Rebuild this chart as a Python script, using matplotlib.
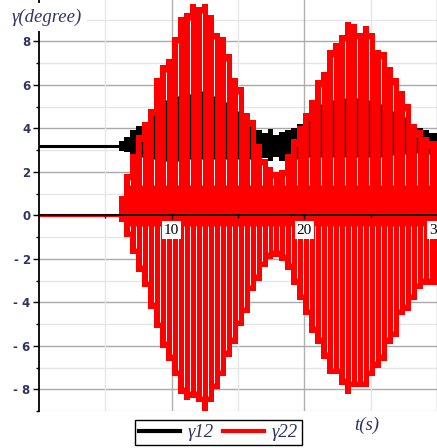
import matplotlib
matplotlib.use("Agg")
import matplotlib.pyplot as plt
from matplotlib.lines import Line2D
import numpy as np

# --- datos ---
t_rest_end = 6.0          # hasta aqui ambas senales estan en reposo
g12_rest = 3.17           # gamma12 en reposo (grados)
g22_rest = 0.0            # gamma22 en reposo

# instantes centrales de cada "diente" de la oscilacion (s)
t_teeth = [6.2, 6.65, 7.1, 7.55, 8.0, 8.45, 8.9, 9.35, 9.8, 10.25,
           10.7, 11.15, 11.6, 12.05, 12.5, 12.95, 13.4, 13.85, 14.3, 14.75,
           15.2, 15.65, 16.1, 16.55, 17.0, 17.45, 17.9, 18.35, 18.8, 19.25,
           19.7, 20.15, 20.6, 21.05, 21.5, 21.95, 22.4, 22.85, 23.3, 23.75,
           24.2, 24.65, 25.1, 25.55, 26.0, 26.45, 26.9, 27.35, 27.8, 28.25,
           28.7, 29.15, 29.6]

# gamma22: maximos y minimos de cada diente
g22_hi = [0.9, 1.9, 2.8, 3.7, 4.3, 4.9, 6.3, 6.9, 7.2, 8.2,
          9.1, 9.3, 9.7, 9.6, 9.7, 9.2, 8.4, 8.2, 7.4, 6.3,
          5.9, 4.7, 4.4, 3.3, 2.6, 2.2, 2.0, 2.1, 2.8, 3.5,
          4.1, 4.7, 5.3, 6.2, 6.6, 7.6, 7.9, 8.3, 8.9, 8.8,
          8.4, 8.7, 8.4, 7.6, 7.5, 6.8, 6.3, 5.7, 5.1, 4.2,
          3.9, 3.6, 3.4]
g22_lo = [-0.3, -1.0, -1.8, -2.6, -3.3, -4.3, -5.2, -6.1, -6.7, -7.4,
          -8.2, -8.5, -8.4, -8.6, -9.0, -8.6, -8.0, -7.4, -6.5, -5.9,
          -5.1, -4.5, -3.5, -3.0, -2.4, -2.0, -1.9, -2.1, -2.5, -3.2,
          -3.9, -4.6, -5.4, -5.9, -6.6, -7.3, -7.3, -7.8, -8.2, -7.9,
          -7.9, -7.9, -7.4, -7.0, -6.7, -5.9, -5.6, -4.6, -4.4, -3.9,
          -3.4, -3.2, -3.2]

# gamma12: maximos y minimos de cada diente
g12_hi = [3.4, 3.6, 3.9, 4.1, 4.3, 4.6, 4.9, 5.1, 5.3, 5.4,
          5.5, 5.5, 5.6, 5.7, 5.6, 5.5, 5.4, 5.2, 5.0, 4.8,
          4.6, 4.4, 4.1, 3.9, 3.8, 3.95, 3.7, 3.85, 3.9, 4.0,
          4.2, 4.6, 4.9, 5.0, 5.1, 5.2, 5.3, 5.4, 5.4, 5.4,
          5.35, 5.3, 5.2, 5.1, 4.95, 4.8, 4.7, 4.5, 4.4, 4.2,
          4.0, 3.9, 3.8]
g12_lo = [2.95, 2.9, 2.8, 2.75, 2.7, 2.7, 2.6, 2.6, 2.5, 2.5,
          2.5, 2.6, 2.6, 2.6, 2.6, 2.6, 2.6, 2.6, 2.6, 2.6,
          2.6, 2.6, 2.6, 2.55, 2.65, 2.5, 2.7, 2.5, 2.6, 2.6,
          2.7, 2.7, 2.7, 2.7, 2.7, 2.7, 2.7, 2.7, 2.7, 2.7,
          2.7, 2.7, 2.7, 2.7, 2.7, 2.75, 2.75, 2.8, 2.8, 2.85,
          2.85, 2.8, 2.85]

y_major = [-8, -6, -4, -2, 0, 2, 4, 6, 8]
y_labels = ["- 8", "- 6", "- 4", "- 2", "0", "2", "4", "6", "8"]
y_minor = [-9, -7, -5, -3, -1, 1, 3, 5, 7, 9]
x_major = [10, 20, 30]
x_minor = [5, 15, 25]

C_G12 = "#000000"
C_G22 = "#ff0000"
C_TXT = "#2e3566"

fig = plt.figure(figsize=(4.37, 4.48), dpi=100)
ax = fig.add_axes([0.0892, 0.0826, 0.9108, 0.9174])
ax.set_xlim(0, 30)
ax.set_ylim(-9, 9.9)

# rejilla manual (detras de los datos)
for y in y_major:
    ax.axhline(y, color="#a9a9a9", lw=1.0, zorder=0)
for y in y_minor:
    ax.axhline(y, color="#e6e6e6", lw=1.0, zorder=0)
for x in x_major:
    ax.axvline(x, color="#b0b0b0", lw=1.0, zorder=0)
for x in x_minor:
    ax.axvline(x, color="#e6e6e6", lw=1.0, zorder=0)

t = np.array(t_teeth)
edges = np.concatenate([[t_rest_end], (t[:-1] + t[1:]) / 2, [30.0]])
hi22, lo22 = np.array(g22_hi), np.array(g22_lo)
hi12, lo12 = np.array(g12_hi), np.array(g12_lo)

# gamma12 (negro)
ax.plot([0, t_rest_end], [g12_rest, g12_rest], color=C_G12, lw=2.2, zorder=1.9)
ax.stairs(hi12, edges, baseline=lo12, fill=True, color=C_G12, zorder=1.9)

# gamma22 (rojo)
ax.plot([0, t_rest_end], [g22_rest, g22_rest], color=C_G22, lw=2.2, zorder=2)
ax.stairs(hi22, edges, baseline=0, fill=True, color=C_G22, zorder=2)
ax.stairs(lo22, edges, baseline=0, fill=True, color=C_G22, zorder=2)

# huecos del muestreo entre dientes: se ve el fondo o gamma12 detras
xe = edges[1:-1]
sel = np.arange(len(xe)) % 2 == 1
top_up = np.minimum(hi22[:-1], hi22[1:]) - 0.3
ok = sel & (top_up > 1.4)
ax.vlines(xe[ok], 1.4, top_up[ok], color="white", lw=0.7, zorder=2.05)
b_top = np.minimum(np.maximum(hi12[:-1], hi12[1:]), top_up)
b_lo = np.minimum(lo12[:-1], lo12[1:])
okb = ok & (b_top > b_lo)
ax.vlines(xe[okb], b_lo[okb], b_top[okb], color=C_G12, lw=0.9, zorder=2.06)
bot_lo = np.maximum(lo22[:-1], lo22[1:]) + 0.3
okl = bot_lo < -0.5
ax.vlines(xe[okl], bot_lo[okl], -0.5, color="white", lw=0.7, zorder=2.05)

# ejes estilo Maple
for s in ("top", "right"):
    ax.spines[s].set_visible(False)
ax.spines["bottom"].set_position(("data", 0))
ax.spines["bottom"].set_linewidth(1.3)
ax.spines["left"].set_linewidth(1.3)
ax.spines["bottom"].set_zorder(3)

ax.set_yticks(y_major)
ax.set_yticklabels(y_labels)
ax.set_yticks(y_minor, minor=True)
ax.set_xticks(x_major)
ax.set_xticklabels([str(v) for v in x_major])
ax.set_xticks(x_minor, minor=True)
ax.tick_params(axis="y", which="major", length=4, width=1, direction="out",
               labelsize=8.5, labelcolor=C_TXT, pad=2)
ax.tick_params(axis="y", which="minor", length=2.5, width=1, direction="out")
ax.tick_params(axis="x", which="major", length=3, width=1, direction="out",
               labelsize=11, pad=3)
ax.tick_params(axis="x", which="minor", length=2, width=1, direction="out")
for lab in ax.get_yticklabels():
    lab.set_fontweight("bold")
for lab in ax.get_xticklabels():
    lab.set_family("Liberation Serif")
    lab.set_bbox(dict(facecolor="white", edgecolor="none", pad=1.5))
ax.xaxis.set_zorder(3)

serif_it = dict(family="Liberation Serif", style="italic", color=C_TXT)
fig.text(12 / 437, 1 - 17 / 448, "γ(degree)", ha="left", va="center",
         fontsize=13.5, bbox=dict(facecolor="white", edgecolor="none", pad=3.5),
         **serif_it)
fig.text(367 / 437, 1 - 425 / 448, "t(s)", ha="center", va="center",
         fontsize=13.5, **serif_it)

handles = [Line2D([], [], color=C_G12, lw=3), Line2D([], [], color=C_G22, lw=3)]
leg = fig.legend(handles, ["γ12", "γ22"], loc="center",
                 bbox_to_anchor=(218.5 / 437, 1 - 432.5 / 448), ncol=2,
                 frameon=True, fancybox=False, edgecolor="black", framealpha=1,
                 handlelength=2.2, handletextpad=0.4, columnspacing=0.5,
                 borderpad=0.2, borderaxespad=0,
                 prop=dict(family="Liberation Serif", style="italic", size=13.5))
leg.get_frame().set_linewidth(1.0)
for txt in leg.get_texts():
    txt.set_color(C_TXT)

fig.savefig("out.png", dpi=100, facecolor="white")
